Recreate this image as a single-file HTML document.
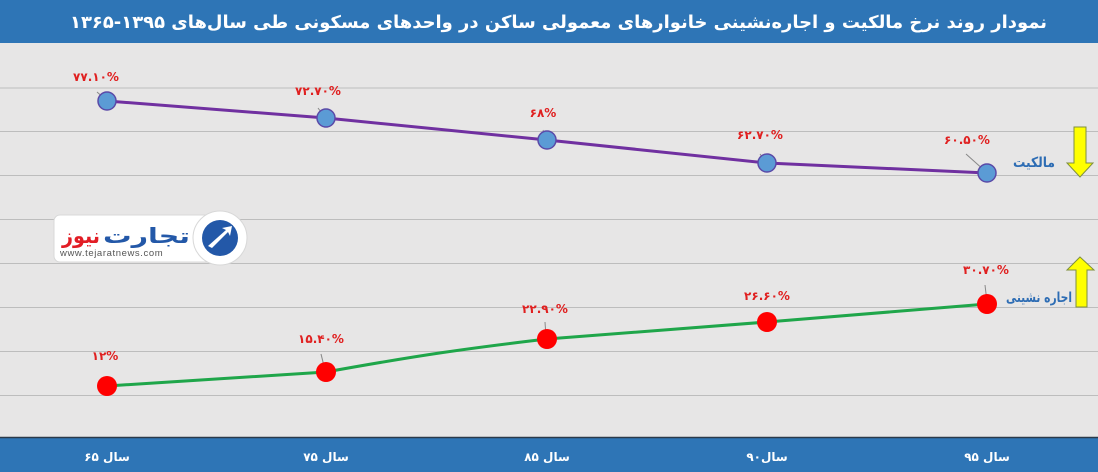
<!DOCTYPE html>
<html><head><meta charset="utf-8"><style>
html,body{margin:0;padding:0;}
body{width:1098px;height:472px;overflow:hidden;background:#e7e6e6;font-family:"Liberation Sans","Noto Sans CJK SC",sans-serif;}
</style></head><body>
<svg width="1098" height="472" xmlns="http://www.w3.org/2000/svg" style="display:block">
<rect x="0" y="0" width="1098" height="472" fill="#e7e6e6"/>
<rect x="0" y="0" width="1098" height="43" fill="#2e75b6"/>
<text x="70" y="28" textLength="977" lengthAdjust="spacingAndGlyphs" fill="#fff" font-size="17.5" font-weight="bold" font-family="DejaVu Sans, sans-serif">نمودار روند نرخ مالکیت و اجاره‌نشینی خانوارهای معمولی ساکن در واحدهای مسکونی طی سال‌های ۱۳۹۵-۱۳۶۵</text>
<g stroke="#bdbdbd" stroke-width="1">
<line x1="0" y1="88" x2="1098" y2="88"/>
<line x1="0" y1="131.5" x2="1098" y2="131.5"/>
<line x1="0" y1="175.5" x2="1098" y2="175.5"/>
<line x1="0" y1="219.5" x2="1098" y2="219.5"/>
<line x1="0" y1="263.5" x2="1098" y2="263.5"/>
<line x1="0" y1="307.5" x2="1098" y2="307.5"/>
<line x1="0" y1="351.5" x2="1098" y2="351.5"/>
<line x1="0" y1="395.5" x2="1098" y2="395.5"/>
</g>
<rect x="0" y="437" width="1098" height="35" fill="#2e75b6"/>
<line x1="0" y1="437.5" x2="1098" y2="437.5" stroke="#2b3a4a" stroke-width="1.5"/>
<g fill="#fff" font-size="12" font-weight="bold" text-anchor="middle" font-family="DejaVu Sans, sans-serif">
<text x="107" y="461">سال ۶۵</text>
<text x="326" y="461">سال ۷۵</text>
<text x="547" y="461">سال ۸۵</text>
<text x="767" y="461">سال۹۰</text>
<text x="987" y="461">سال ۹۵</text>
</g>
<polyline points="107,101 326,118 547,140 767,163 987,173" fill="none" stroke="#7030a0" stroke-width="3"/>
<path d="M107,386 L326,372 C420,355 470,348 547,339 L767,322 L987,304" fill="none" stroke="#1fa64a" stroke-width="3"/>
<g stroke="#888" stroke-width="1">
<line x1="97" y1="92" x2="105" y2="99"/><line x1="318" y1="108" x2="324" y2="116"/>
<line x1="543" y1="130" x2="546" y2="138"/><line x1="760" y1="154" x2="765" y2="161"/>
<line x1="966" y1="154" x2="985" y2="171"/>
<line x1="321" y1="354" x2="325" y2="370"/><line x1="545" y1="322" x2="546" y2="337"/>
<line x1="985" y1="285" x2="987" y2="302"/>
</g>
<g fill="#5b9bd5" stroke="#5a4aa8" stroke-width="1.5">
<circle cx="107" cy="101" r="9"/><circle cx="326" cy="118" r="9"/><circle cx="547" cy="140" r="9"/><circle cx="767" cy="163" r="9"/><circle cx="987" cy="173" r="9"/>
</g>
<g fill="#ff0000">
<circle cx="107" cy="386" r="10"/><circle cx="326" cy="372" r="10"/><circle cx="547" cy="339" r="10"/><circle cx="767" cy="322" r="10"/><circle cx="987" cy="304" r="10"/>
</g>
<g fill="#e02020" font-size="12" font-weight="bold" text-anchor="middle" font-family="DejaVu Sans, sans-serif">
<text x="96" y="81">۷۷.۱۰%</text>
<text x="318" y="95">۷۲.۷۰%</text>
<text x="543" y="117">۶۸%</text>
<text x="760" y="139">۶۲.۷۰%</text>
<text x="967" y="144">۶۰.۵۰%</text>
<text x="105" y="360">۱۲%</text>
<text x="321" y="343">۱۵.۴۰%</text>
<text x="545" y="313">۲۲.۹۰%</text>
<text x="767" y="300">۲۶.۶۰%</text>
<text x="986" y="274">۳۰.۷۰%</text>
</g>
<g fill="#2e6db4" font-size="14" font-weight="bold" font-family="DejaVu Sans, sans-serif">
<text x="1013" y="167" textLength="42" lengthAdjust="spacingAndGlyphs">مالکیت</text>
<text x="1006" y="302" textLength="66" lengthAdjust="spacingAndGlyphs">اجاره نشینی</text>
</g>
<polygon points="1074,127 1086,127 1086,163 1093,163 1080,177 1067,163 1074,163" fill="#ffff00" stroke="#7f8f3f" stroke-width="1"/>
<polygon points="1080,257 1094,270 1087,270 1087,307 1076,307 1076,270 1067,270" fill="#ffff00" stroke="#7f8f3f" stroke-width="1"/>
<rect x="54" y="215" width="170" height="47" rx="6" fill="#fff" stroke="#d8d8d8"/>
<circle cx="220" cy="238" r="27" fill="#fff" stroke="#d8d8d8"/>
<circle cx="220" cy="238" r="18" fill="#2358a8"/>
<path d="M208,246 L226,230 L222,228 L232,226 L230,236 L228,232 L212,248 Z" fill="#fff"/>
<text x="62" y="243" textLength="38" lengthAdjust="spacingAndGlyphs" fill="#e21d25" font-size="21" font-weight="bold" font-family="DejaVu Sans, sans-serif">نیوز</text>
<text x="103" y="243" textLength="87" lengthAdjust="spacingAndGlyphs" fill="#2358a8" font-size="21" font-weight="bold" font-family="DejaVu Sans, sans-serif">تجارت</text>
<text x="60" y="256" fill="#555" font-size="9.5" font-family="Liberation Sans, sans-serif" letter-spacing="0.6">www.tejaratnews.com</text>
</svg>
</body></html>
